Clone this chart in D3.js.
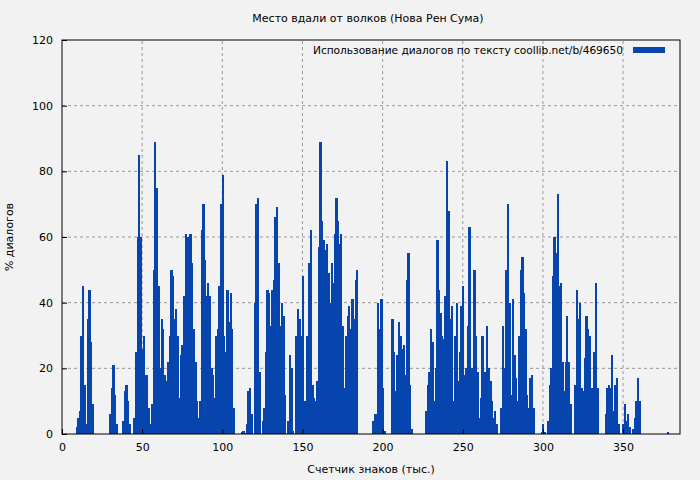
<!DOCTYPE html>
<html>
<head>
<meta charset="utf-8">
<script src="https://cdn.jsdelivr.net/npm/d3@7"></script>
<style>
  body { margin: 0; background: #f2f2f2; }
  text { font-family: "DejaVu Sans", sans-serif; font-size: 11px; fill: #000; }
  .grid line { stroke: #999; stroke-dasharray: 3,3; }
</style>
</head>
<body>
<script>
// chart data: % of dialogue per thousand characters (index = thousands of chars)
var title = "Место вдали от волков (Нова Рен Сума)";
var seriesName = "Использование диалогов по тексту  coollib.net/b/469650";
var xLabel = "Счетчик знаков (тыс.)";
var yLabel = "% диалогов";
var xTicks = [0, 50, 100, 150, 200, 250, 300, 350];
var yTicks = [0, 20, 40, 60, 80, 100, 120];
var dialogPct = [
  /*   0 */ 0, 0, 0, 0, 0, 0, 0, 0, 0, 2,
  /*  10 */ 5, 7, 30, 45, 15, 3, 35, 44, 28, 9,
  /*  20 */ 0, 0, 0, 0, 0, 0, 0, 0, 0, 0,
  /*  30 */ 6, 14, 21, 12, 3, 0, 0, 0, 4, 13,
  /*  40 */ 15, 10, 3, 0, 0, 5, 25, 60, 85, 60,
  /*  50 */ 26, 30, 18, 18, 8, 3, 9, 50, 89, 75,
  /*  60 */ 45, 20, 35, 32, 18, 16, 22, 30, 50, 48,
  /*  70 */ 35, 38, 30, 11, 24, 27, 42, 61, 60, 30,
  /*  80 */ 61, 52, 32, 22, 10, 5, 10, 62, 70, 53,
  /*  90 */ 42, 46, 42, 20, 18, 11, 30, 32, 45, 70,
  /* 100 */ 79, 30, 25, 44, 34, 43, 32, 8, 0, 0,
  /* 110 */ 0, 0, 0.5, 1, 0.3, 3, 13, 14, 6, 0,
  /* 120 */ 40, 70, 72, 19, 0, 4, 8, 25, 44, 43,
  /* 130 */ 33, 44, 47, 66, 69, 52, 33, 40, 36, 12,
  /* 140 */ 0, 4, 24, 20, 1, 0, 30, 38, 35, 30,
  /* 150 */ 48, 10, 7, 30, 52, 62, 15, 11, 10, 16,
  /* 160 */ 57, 89, 65, 59, 56, 58, 49, 40, 52, 46,
  /* 170 */ 61, 72, 65, 58, 61, 33, 14, 30, 36, 39,
  /* 180 */ 32, 41, 35, 47, 50, 0, 0, 0, 0, 0,
  /* 190 */ 0, 0, 0, 0, 4, 6, 6, 40, 32, 41,
  /* 200 */ 14, 1, 0, 0, 0, 0, 35, 25, 13, 24,
  /* 210 */ 34, 30, 26, 27, 18, 47, 55, 15, 1.5, 0,
  /* 220 */ 0, 0, 0, 0, 0, 0, 0, 7, 15, 19,
  /* 230 */ 32, 28, 10, 20, 59, 44, 37, 30, 29, 42,
  /* 240 */ 83, 68, 35, 39, 10, 30, 40, 16, 25, 39,
  /* 250 */ 45, 18, 20, 33, 63, 20, 20, 50, 30, 19,
  /* 260 */ 5, 11, 30, 17, 19, 33, 20, 16, 10, 5,
  /* 270 */ 7, 3, 0, 0, 8, 33, 20, 50, 70, 40,
  /* 280 */ 12, 41, 24, 17, 10, 30, 50, 54, 43, 32,
  /* 290 */ 12, 8, 17, 18, 8, 0, 0, 0, 0, 0.5,
  /* 300 */ 3, 0.5, 0, 4, 15, 20, 48, 60, 55, 73,
  /* 310 */ 45, 46, 22, 13, 22, 36, 22, 9, 0, 0,
  /* 320 */ 15, 44, 35, 40, 14, 13, 23, 36, 32, 30,
  /* 330 */ 14, 13, 25, 46, 14, 0, 0, 0, 0, 6,
  /* 340 */ 14, 15, 14, 24, 7, 15, 17, 3, 0, 0,
  /* 350 */ 3, 9, 4, 6, 2, 0, 1.5, 5, 10, 17,
  /* 360 */ 10, 0, 0, 0, 0, 0, 0, 0, 0, 0,
  /* 370 */ 0, 0, 0, 0, 0, 0, 0, 0, 0.5, 0
];

var width = 700, height = 480;
var margin = {left: 62, right: 20, top: 40, bottom: 46};

var svg = d3.select("body").append("svg")
    .attr("width", width)
    .attr("height", height);

svg.append("rect").attr("width", width).attr("height", height).attr("fill", "#f2f2f2");

var x = d3.scaleLinear().domain([0, 385.5]).range([margin.left, width - margin.right]);
var y = d3.scaleLinear().domain([0, 120]).range([height - margin.bottom, margin.top]);

//grid lines
var grid = svg.append("g").attr("class", "grid");
grid.selectAll(".gx").data(xTicks.slice(1)).enter().append("line")
    .attr("x1", function(d){ return x(d); }).attr("x2", function(d){ return x(d); })
    .attr("y1", y(0)).attr("y2", y(120));
grid.selectAll(".gy").data(yTicks.slice(1, -1)).enter().append("line")
    .attr("x1", x.range()[0]).attr("x2", x.range()[1])
    .attr("y1", function(d){ return y(d); }).attr("y2", function(d){ return y(d); });

//bars (slightly overlapped so no seams show between neighbours)
var bw = x(1) - x(0);
svg.append("g").selectAll("rect").data(dialogPct).enter().append("rect")
    .attr("x", function(d, i){ return x(i) - bw / 2; })
    .attr("width", bw + 0.7)
    .attr("y", function(d){ return y(d); })
    .attr("height", function(d){ return y(0) - y(d); })
    .attr("fill", "#0645ad")
    .attr("shape-rendering", "crispEdges");

//axes
var xAxis = d3.axisBottom(x).tickValues(xTicks).tickSize(-5).tickPadding(9);
var yAxis = d3.axisLeft(y).tickValues(yTicks).tickSize(-5).tickPadding(9);
var gx = svg.append("g").attr("transform", "translate(0," + y(0) + ")").call(xAxis);
var gy = svg.append("g").attr("transform", "translate(" + x.range()[0] + ",0)").call(yAxis);
[gx, gy].forEach(function(g){
    g.select(".domain").remove();
    g.selectAll("text").style("font-size", "11px").attr("fill", "#000");
    g.selectAll("line").attr("stroke", "#000");
});

//frame
svg.append("rect")
    .attr("x", x.range()[0]).attr("y", y(120))
    .attr("width", x.range()[1] - x.range()[0])
    .attr("height", y(0) - y(120))
    .attr("fill", "none").attr("stroke", "#000");

//titles
svg.append("text").attr("x", 368).attr("y", 22).attr("text-anchor", "middle").text(title);
svg.append("text").attr("x", 371).attr("y", 473).attr("text-anchor", "middle").text(xLabel);
svg.append("text").attr("transform", "translate(13," + 237 + ") rotate(-90)")
    .attr("text-anchor", "middle").text(yLabel);

//legend
svg.append("text").attr("x", 623).attr("y", 54).attr("text-anchor", "end")
    .attr("textLength", 310).style("font-size", "10.6px").text(seriesName);
svg.append("rect").attr("x", 633).attr("y", 47).attr("width", 32).attr("height", 6).attr("fill", "#0645ad");
</script>
</body>
</html>
